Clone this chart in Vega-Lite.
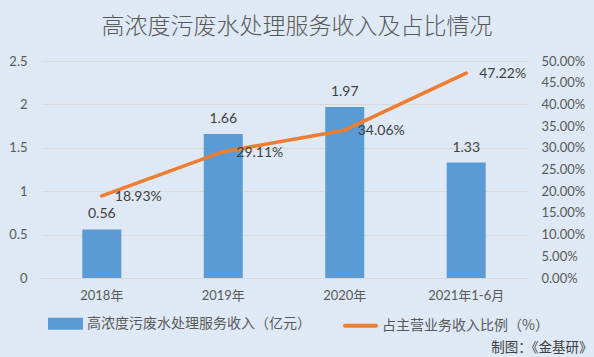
{
  "$schema": "https://vega.github.io/schema/vega-lite/v6.json",
  "width": 486,
  "height": 217,
  "autosize": {"type": "none"},
  "padding": {"left": 41, "top": 61, "right": 67, "bottom": 79},
  "background": "#dee9f5",
  "title": {"text": "高浓度污废水处理服务收入及占比情况", "fontSize": 23, "font": "Noto Sans CJK SC", "fontWeight": 300, "color": "#595959", "anchor": "middle", "offset": 16, "dx": 13},
  "config": {"view": {"stroke": null}, "font": "Lato, Noto Sans CJK SC"},
  "data": {"values": [
    {"year": "2018年", "revenue": 0.56, "ratio": 0.1893},
    {"year": "2019年", "revenue": 1.66, "ratio": 0.2911},
    {"year": "2020年", "revenue": 1.97, "ratio": 0.3406},
    {"year": "2021年1-6月", "revenue": 1.33, "ratio": 0.4722}
  ]},
  "encoding": {
    "x": {"field": "year", "type": "nominal", "sort": null,
      "scale": {"paddingInner": 0.679, "paddingOuter": 0.34},
      "axis": {"title": "制图：《金基研》", "titleAnchor": "end", "titleAlign": "right", "titleX": 551, "titleY": 69, "titleBaseline": "middle", "titleFontSize": 13.5, "titleFontWeight": "normal", "titleColor": "#404040", "titleFont": "Noto Sans CJK SC",
        "labelAngle": 0, "labelFontSize": 13, "labelColor": "#595959", "labelPadding": 11, "ticks": false, "domain": true, "domainColor": "#d9d9d9", "labelFont": "Lato, Noto Sans CJK SC"}}
  },
  "layer": [
    {
      "encoding": {"y": {"field": "revenue", "type": "quantitative", "scale": {"domain": [0, 2.5]},
        "axis": {"title": null, "values": [0, 0.5, 1, 1.5, 2, 2.5], "format": "~f", "labelFontSize": 13, "labelColor": "#595959", "labelPadding": 14, "ticks": false, "domain": false, "grid": true, "gridColor": "#d9d9d9", "gridWidth": 1}}},
      "layer": [
        {"mark": {"type": "bar", "color": "#5b9bd5"},
          "encoding": {"color": {"datum": "高浓度污废水处理服务收入（亿元）", "type": "nominal",
            "scale": {"domain": ["高浓度污废水处理服务收入（亿元）", "占主营业务收入比例（%）"], "range": ["#5b9bd5", "#ed7d31"]},
            "legend": {"orient": "none", "legendX": 7, "legendY": 245, "direction": "horizontal", "title": null, "labelFontSize": 14, "labelColor": "#595959", "labelFont": "Noto Sans CJK SC", "labelLimit": 400, "columnPadding": 26, "symbolSize": 961, "labelOffset": 4,
              "encode": {"symbols": {"update": {
                "shape": {"signal": "datum.value == '占主营业务收入比例（%）' ? 'M-1,0H1' : 'M-1,-0.26H1V0.26H-1Z'"},
                "fill": {"signal": "datum.value == '占主营业务收入比例（%）' ? 'transparent' : '#5b9bd5'"},
                "stroke": {"signal": "datum.value == '占主营业务收入比例（%）' ? '#ed7d31' : 'transparent'"},
                "strokeWidth": {"value": 4},
                "strokeCap": {"value": "round"},
                "opacity": {"value": 1}
              }}}}}}},
        {"mark": {"type": "text", "baseline": "bottom", "dy": -8, "fontSize": 14, "color": "#404040"},
          "encoding": {"text": {"field": "revenue", "type": "quantitative", "format": ".2f"}}}
      ]
    },
    {
      "encoding": {"y": {"field": "ratio", "type": "quantitative", "scale": {"domain": [0, 0.5]},
        "axis": {"orient": "right", "title": null, "values": [0, 0.05, 0.1, 0.15, 0.2, 0.25, 0.3, 0.35, 0.4, 0.45, 0.5], "format": ".2%", "labelFontSize": 13, "labelColor": "#595959", "labelPadding": 14, "ticks": false, "domain": false, "grid": false}}},
      "layer": [
        {"mark": {"type": "line", "strokeWidth": 3.5, "strokeCap": "round", "strokeJoin": "round"},
          "encoding": {"color": {"datum": "占主营业务收入比例（%）", "type": "nominal"}}},
        {"mark": {"type": "text", "align": "left", "baseline": "middle", "dx": 13, "dy": 1, "fontSize": 14, "color": "#404040"},
          "encoding": {"text": {"field": "ratio", "type": "quantitative", "format": ".2%"}}}
      ]
    }
  ],
  "resolve": {"scale": {"y": "independent"}}
}
